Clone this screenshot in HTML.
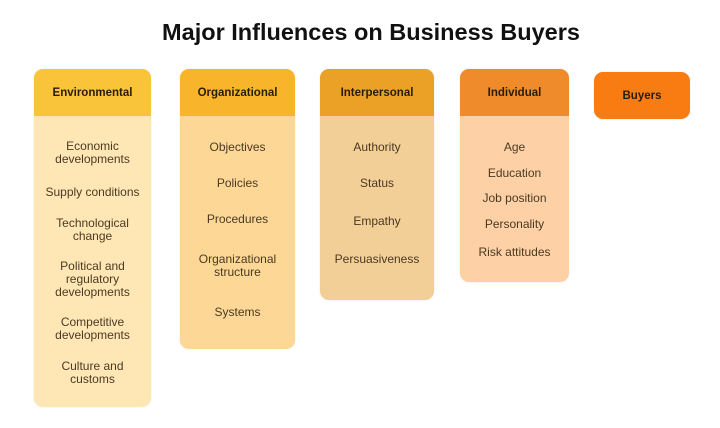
<!DOCTYPE html>
<html><head><meta charset="utf-8"><style>
*{margin:0;padding:0;box-sizing:border-box}
body{width:720px;height:428px;background:#fff;position:relative;overflow:hidden;font-family:"Liberation Sans",sans-serif}
.t{position:absolute;left:0;width:720px;top:19px;text-align:center;font-weight:bold;font-size:23.5px;color:#111;padding-left:22px}
.col{position:absolute;border-radius:9px;overflow:hidden;box-shadow:0 0 2px rgba(0,0,0,.08)}
.h{height:47px;display:flex;align-items:center;justify-content:center;font-weight:bold;font-size:11.5px;color:#2a1d08}
.i{position:absolute;left:-5px;right:-5px;text-align:center;font-size:12px;line-height:13px;color:#4a3a22}
</style></head><body>
<div class="t">Major Influences on Business Buyers</div>

<div class="col" style="left:34px;top:69px;width:117px;height:338px;background:#ffe6b5">
<div class="h" style="background:#f9c33a">Environmental</div>
<div class="i" style="top:71px">Economic<br>developments</div>
<div class="i" style="top:117px">Supply conditions</div>
<div class="i" style="top:148px">Technological<br>change</div>
<div class="i" style="top:191px">Political and<br>regulatory<br>developments</div>
<div class="i" style="top:247px">Competitive<br>developments</div>
<div class="i" style="top:291px">Culture and<br>customs</div>
</div>

<div class="col" style="left:180px;top:69px;width:115px;height:280px;background:#fdd795">
<div class="h" style="background:#f8b52b">Organizational</div>
<div class="i" style="top:72px">Objectives</div>
<div class="i" style="top:108px">Policies</div>
<div class="i" style="top:144px">Procedures</div>
<div class="i" style="top:184px">Organizational<br>structure</div>
<div class="i" style="top:237px">Systems</div>
</div>

<div class="col" style="left:320px;top:69px;width:114px;height:231px;background:#f3cf98">
<div class="h" style="background:#eba126">Interpersonal</div>
<div class="i" style="top:72px">Authority</div>
<div class="i" style="top:108px">Status</div>
<div class="i" style="top:146px">Empathy</div>
<div class="i" style="top:184px">Persuasiveness</div>
</div>

<div class="col" style="left:460px;top:69px;width:109px;height:213px;background:#fdd0a6">
<div class="h" style="background:#f08b2c">Individual</div>
<div class="i" style="top:72px">Age</div>
<div class="i" style="top:98px">Education</div>
<div class="i" style="top:123px">Job position</div>
<div class="i" style="top:149px">Personality</div>
<div class="i" style="top:177px">Risk attitudes</div>
</div>

<div class="col" style="left:594px;top:72px;width:96px;height:47px;background:#f97c12">
<div class="h" style="height:47px">Buyers</div>
</div>
</body></html>
